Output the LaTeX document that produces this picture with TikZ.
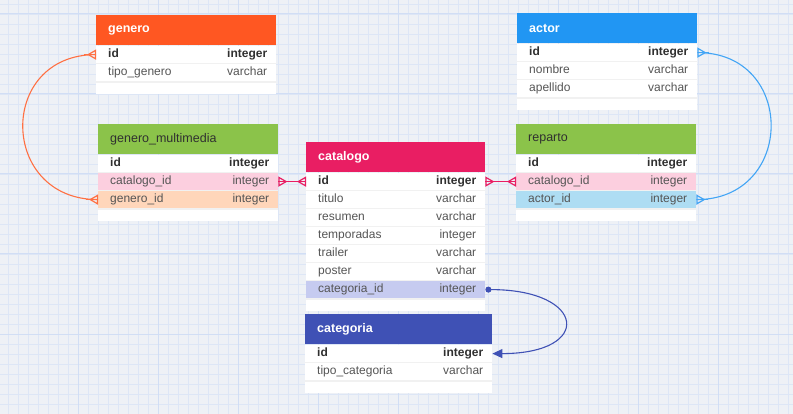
\documentclass[tikz,border=0pt]{standalone}
\usepackage{fontspec}
\setmainfont{Liberation Sans}
\usetikzlibrary{arrows.meta,calc}

\definecolor{paper}{RGB}{238,241,246}
\definecolor{gridminor}{RGB}{221,230,246}
\definecolor{gridmajor}{RGB}{209,222,245}
\definecolor{sepgray}{RGB}{241,241,241}
\definecolor{txtgray}{RGB}{85,85,85}
\definecolor{txtdark}{RGB}{48,48,48}
\definecolor{hdorange}{RGB}{255,87,34}
\definecolor{hdgreen}{RGB}{139,195,74}
\definecolor{hdpink}{RGB}{233,30,99}
\definecolor{hdindigo}{RGB}{63,81,181}
\definecolor{hdblue}{RGB}{33,150,243}
\definecolor{rwpink}{RGB}{252,207,223}
\definecolor{rwpeach}{RGB}{255,214,186}
\definecolor{rwblue}{RGB}{174,221,243}
\definecolor{rwlav}{RGB}{198,203,240}
\definecolor{lnorange}{RGB}{255,112,67}
\definecolor{lnblue}{RGB}{66,165,245}

\tikzset{
	tblhead/.style={anchor=north west, minimum height=30pt, inner sep=0pt},
	tblrow/.style={anchor=north west, minimum height=18pt, inner sep=0pt},
	tbltail/.style={anchor=north west, minimum height=12pt, inner sep=0pt, fill=white},
	titlelight/.style={anchor=west, inner sep=0pt, text=white, font=\fontsize{12.5}{14}\selectfont\bfseries},
	titledark/.style={anchor=west, inner sep=0pt, text=txtdark, font=\fontsize{12.5}{14}\selectfont},
	fieldname/.style={anchor=west, inner sep=0pt, text height=8.5pt, text depth=2.5pt, text=txtgray},
	fieldtype/.style={anchor=east, inner sep=0pt, text height=8.5pt, text depth=2.5pt, text=txtgray},
	rowline/.style={sepgray, line width=1.6pt},
	relcurve/.style={line width=1.1pt},
	relstraight/.style={line width=1.8pt},
	crowfoot/.style={line width=1.2pt, -{Triangle[open, reversed, length=9pt, width=10pt]}}
}

% #1 name, #2 top left, #3 width, #4 head colour, #5 title style, #6 title, #7 rows
\newcommand{\erdtable}[7]{%
	\node[tblhead, fill=#4, minimum width=#3] (#1) at (#2) {};
	\node[#5] (#1-title) at ([xshift=12pt]#1.west) {#6};
	\foreach \fname/\ftype/\ffill [count=\i] in {#7} {
		\node[tbltail, minimum width=#3] (#1-tail-\i) at ($(#1.south west)+(0,{\i*18})$) {};
		\node[tblrow, fill=\ffill, minimum width=#3] (#1-\i) at ($(#1.south west)+(0,{(\i-1)*18})$) {};
		\ifnum\i>1 \draw[rowline] (#1-\i.north west) -- (#1-\i.north east); \fi
		\draw[rowline] (#1-\i.south west) -- (#1-\i.south east);
		\node[fieldname] (#1-\i-n) at ([xshift=12pt]#1-\i.west) {\ifnum\i=1 \color{txtdark}\bfseries\fi\fname};
		\node[fieldtype] (#1-\i-t) at ([xshift=-9pt]#1-\i.east) {\ifnum\i=1 \color{txtdark}\bfseries\fi\ftype};
	}
}

\begin{document}
\begin{tikzpicture}[x=1pt, y=-1pt, font=\fontsize{12}{14}\selectfont]
	\useasboundingbox (0,0) rectangle (793,414);
	% background grid
	\fill[paper] (0,0) rectangle (793,414);
	\foreach \gx in {8,18,...,788} \draw[gridminor, line width=0.8pt] (\gx,0) -- (\gx,414);
	\foreach \gy in {4,14,...,414} \draw[gridminor, line width=0.8pt] (0,\gy) -- (793,\gy);
	\foreach \gx in {78,158,...,718} \draw[gridmajor, line width=1pt] (\gx,0) -- (\gx,414);
	\foreach \gy in {14,94,...,334} \draw[gridmajor, line width=1pt] (0,\gy) -- (793,\gy);

	% tables
	\erdtable{genero}{96,15}{180pt}{hdorange}{titlelight}{genero}
		{id/integer/white, tipo\_genero/varchar/white}
	\erdtable{genmul}{98,124}{180pt}{hdgreen}{titledark}{genero\_multimedia}
		{id/integer/white, catalogo\_id/integer/rwpink, genero\_id/integer/rwpeach}
	\erdtable{catalogo}{306,142}{179pt}{hdpink}{titlelight}{catalogo}
		{id/integer/white, titulo/varchar/white, resumen/varchar/white, temporadas/integer/white,
		 trailer/varchar/white, poster/varchar/white, categoria\_id/integer/rwlav}
	\erdtable{categoria}{305,314}{187pt}{hdindigo}{titlelight}{categoria}
		{id/integer/white, tipo\_categoria/varchar/white}
	\erdtable{actor}{517,13}{180pt}{hdblue}{titlelight}{actor}
		{id/integer/white, nombre/varchar/white, apellido/varchar/white}
	\erdtable{reparto}{516,124}{180pt}{hdgreen}{titledark}{reparto}
		{id/integer/white, catalogo\_id/integer/rwpink, actor\_id/integer/rwblue}

	% relations
	\draw[relcurve, lnorange] (genero-1.west) .. controls +(-99,0) and +(-99,0) .. (genmul-3.west);
	\draw[relcurve, lnblue] (actor-1.east) .. controls +(99,0) and +(99,0) .. (reparto-3.east);
	\draw[relstraight, hdpink] (genmul-2.east) -- (catalogo-1.west);
	\draw[relstraight, hdpink] (catalogo-1.east) -- (reparto-2.west);
	\draw[relcurve, hdindigo, {Circle[length=6pt]}-{Triangle[length=10pt, width=9pt]}] (catalogo-7.east) .. controls +(101,0) and +(101,0) .. (categoria-1.east);
	% many-ends
	\foreach \anc/\dx/\col in {genero-1.west/-12/lnorange, genmul-3.west/-12/lnorange,
		actor-1.east/12/lnblue, reparto-3.east/12/lnblue,
		genmul-2.east/12/hdpink, catalogo-1.west/-12/hdpink,
		catalogo-1.east/12/hdpink, reparto-2.west/-12/hdpink}
		\draw[color=\col, crowfoot] ([xshift=\dx pt]\anc) -- (\anc);
\end{tikzpicture}
\end{document}
